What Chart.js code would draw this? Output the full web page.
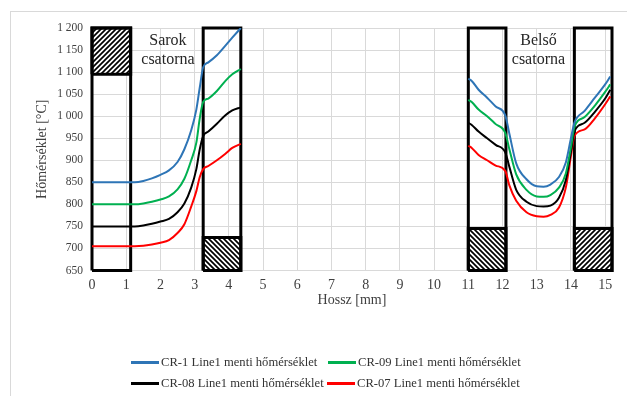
<!DOCTYPE html>
<html><head><meta charset="utf-8">
<script src="https://cdn.jsdelivr.net/npm/chart.js@4.4.1/dist/chart.umd.min.js"></script>
<style>
html,body{margin:0;padding:0;background:#fff;}
#wrap{position:relative;width:627px;height:396px;overflow:hidden;}
#frame{position:absolute;left:10px;top:11px;width:620px;height:390px;border:1px solid #d9d9d9;box-sizing:border-box;}
#c{position:absolute;left:0;top:0;}
.leg{position:absolute;display:flex;align-items:center;font:12.6px "Liberation Serif","Times New Roman",serif;color:#333;white-space:nowrap;height:14px;}
.leg i{display:inline-block;width:28px;height:3px;margin-right:2px;}
</style></head>
<body><div id="wrap"><div id="frame"></div><canvas id="c" width="627" height="396"></canvas><div id="legend"></div></div>
<script>
// ---- data ----
const seriesNames = ['CR-1 Line1 menti hőmérséklet','CR-09 Line1 menti hőmérséklet','CR-08 Line1 menti hőmérséklet','CR-07 Line1 menti hőmérséklet'];
const seriesColors = ['#2e75b6','#00b050','#000000','#ff0000'];
const xLeft  = [0, 1.25, 1.5, 1.75, 2.0, 2.25, 2.5, 2.7, 2.9, 3.05, 3.15, 3.25, 3.4, 3.65, 3.9, 4.1, 4.35];
const xRight = [11.0, 11.1, 11.3, 11.55, 11.8, 12.08, 12.2, 12.4, 12.7, 13.0, 13.2, 13.4, 13.65, 13.85, 14.0, 14.1, 14.4, 14.7, 15.0, 15.15];
const cr1Left  = [850, 850, 853, 859, 867, 877, 896, 925, 968, 1015, 1065, 1111, 1122, 1138, 1160, 1178, 1200];
const cr09Left = [800, 800, 802, 806, 811, 818, 834, 858, 900, 940, 995, 1032, 1040, 1057, 1080, 1095, 1107];
const cr08Left = [750, 750, 752, 756, 761, 767, 782, 802, 838, 880, 925, 955, 965, 983, 1002, 1013, 1020];
const cr07Left = [705, 705, 706, 709, 713, 719, 735, 755, 795, 830, 862, 880, 887, 900, 915, 928, 937];
const cr1Right  = [1085, 1080, 1060, 1042, 1022, 1002, 960, 893, 857, 841, 840, 845, 862, 895, 950, 985, 1012, 1042, 1072, 1090];
const cr09Right = [1037, 1032, 1015, 1000, 982, 962, 925, 868, 833, 818, 817, 821, 838, 870, 930, 975, 998, 1024, 1055, 1072];
const cr08Right = [985, 980, 965, 950, 935, 918, 885, 833, 806, 796, 795, 797, 815, 855, 920, 965, 985, 1010, 1040, 1060];
const cr07Right = [933, 928, 912, 900, 888, 876, 843, 808, 782, 773, 772, 776, 793, 838, 910, 955, 970, 995, 1027, 1045];
const boxStart = [0, 3.25, 11.0, 14.1];
const boxEnd   = [1.13, 4.35, 12.1, 15.2];
const hatchLow  = [1095, 650, 650, 650];
const hatchHigh = [1200, 725, 745, 745];
const hatchDir  = ['/', '\\', '\\', '/'];
const yMin = 650, yMax = 1200, yStep = 50;
const xMin = 0, xMax = 15.2;
const xTitle = 'Hossz [mm]';
const yTitle = 'Hőmérséklet [°C]';
const notes = [
  {lines: ['Sarok', 'csatorna'], x: 2.22, y: 1171},
  {lines: ['Belső', 'csatorna'], x: 13.05, y: 1172}
];
// ---- build ----
function hatch(dir){
  const s = 5, cv = document.createElement('canvas');
  cv.width = s; cv.height = s;
  const g = cv.getContext('2d');
  g.fillStyle = '#fff'; g.fillRect(0,0,s,s);
  g.strokeStyle = '#000'; g.lineWidth = 1.7;
  g.beginPath();
  if (dir === '/') {
    g.moveTo(0, s); g.lineTo(s, 0);
    g.moveTo(-1, 1); g.lineTo(1, -1);
    g.moveTo(s-1, s+1); g.lineTo(s+1, s-1);
  } else {
    g.moveTo(0, 0); g.lineTo(s, s);
    g.moveTo(-1, s-1); g.lineTo(1, s+1);
    g.moveTo(s-1, -1); g.lineTo(s+1, 1);
  }
  g.stroke();
  return g.createPattern(cv, 'repeat');
}
const lefts = [cr1Left, cr09Left, cr08Left, cr07Left];
const rights = [cr1Right, cr09Right, cr08Right, cr07Right];
const datasets = [];
seriesNames.forEach((n, k) => {
  const pts = xLeft.map((x, i) => ({x, y: lefts[k][i]}))
    .concat([{x: 7.5, y: null}])
    .concat(xRight.map((x, i) => ({x, y: rights[k][i]})));
  datasets.push({label: n, data: pts, borderColor: seriesColors[k], backgroundColor: seriesColors[k],
    borderWidth: 2, pointRadius: 0, cubicInterpolationMode: 'monotone', fill: false, spanGaps: false});
});
boxStart.forEach((x0, k) => {
  const x1 = boxEnd[k];
  datasets.push({label: 'box' + k, data: [{x:x0,y:yMin},{x:x0,y:yMax},{x:x1,y:yMax},{x:x1,y:yMin},{x:x0,y:yMin}],
    borderColor: '#000', borderWidth: 3, pointRadius: 0, fill: false, tension: 0, clip: false, borderJoinStyle: 'miter'});
  const lo = hatchLow[k], hi = hatchHigh[k];
  datasets.push({label: 'hatch' + k, data: [{x:x0,y:lo},{x:x0,y:hi},{x:x1,y:hi},{x:x1,y:lo},{x:x0,y:lo}],
    borderColor: '#000', borderWidth: 3, pointRadius: 0, fill: 'shape', backgroundColor: hatch(hatchDir[k]),
    tension: 0, clip: false, borderJoinStyle: 'miter'});
});
const serif = '"Liberation Serif","Times New Roman",serif';
const notesPlugin = {
  id: 'notes',
  afterDatasetsDraw(chart) {
    const {ctx, scales: {x, y}} = chart;
    ctx.save();
    ctx.font = '16px ' + serif;
    ctx.fillStyle = '#262626';
    ctx.textAlign = 'center'; ctx.textBaseline = 'middle';
    notes.forEach(n => {
      const px = x.getPixelForValue(n.x), py = y.getPixelForValue(n.y);
      n.lines.forEach((t, i) => ctx.fillText(t, px, py + i * 19.5));
    });
    ctx.restore();
  }
};
new Chart(document.getElementById('c'), {
  type: 'line',
  data: {datasets},
  options: {
    responsive: false, animation: false, devicePixelRatio: 1,
    layout: {padding: {top: 28, right: 15, left: 0, bottom: 0}},
    plugins: {legend: {display: false}, tooltip: {enabled: false}},
    scales: {
      x: {type: 'linear', min: xMin, max: xMax,
        ticks: {stepSize: 1, includeBounds: false, padding: 6, color: '#404040', font: {family: serif, size: 14}},
        grid: {color: '#d9d9d9', drawTicks: false}, border: {display: false},
        title: {display: true, text: xTitle, color: '#404040', font: {family: serif, size: 14}, padding: {top: 0, bottom: 87}},
        afterFit(s) { s.height = 125.5; }
      },
      y: {type: 'linear', min: yMin, max: yMax,
        ticks: {stepSize: yStep, padding: 9, color: '#404040', font: {family: serif, size: 11.5},
          callback: v => v >= 1000 ? Math.floor(v/1000) + ' ' + String(v % 1000).padStart(3, '0') : String(v)},
        grid: {color: '#d9d9d9', drawTicks: false}, border: {display: false},
        title: {display: true, text: yTitle, color: '#404040', font: {family: serif, size: 14}, padding: {top: 34, bottom: 0}},
        afterFit(s) { s.width = 92; }
      }
    }
  },
  plugins: [notesPlugin]
});
// legend (HTML)
const legPos = [[131, 355], [328, 355], [131, 376], [327, 376]];
const leg = document.getElementById('legend');
seriesNames.forEach((n, k) => {
  const d = document.createElement('div');
  d.className = 'leg';
  d.style.left = legPos[k][0] + 'px'; d.style.top = legPos[k][1] + 'px';
  const i = document.createElement('i'); i.style.background = seriesColors[k];
  d.appendChild(i); d.appendChild(document.createTextNode(n));
  leg.appendChild(d);
});
</script></body></html>
